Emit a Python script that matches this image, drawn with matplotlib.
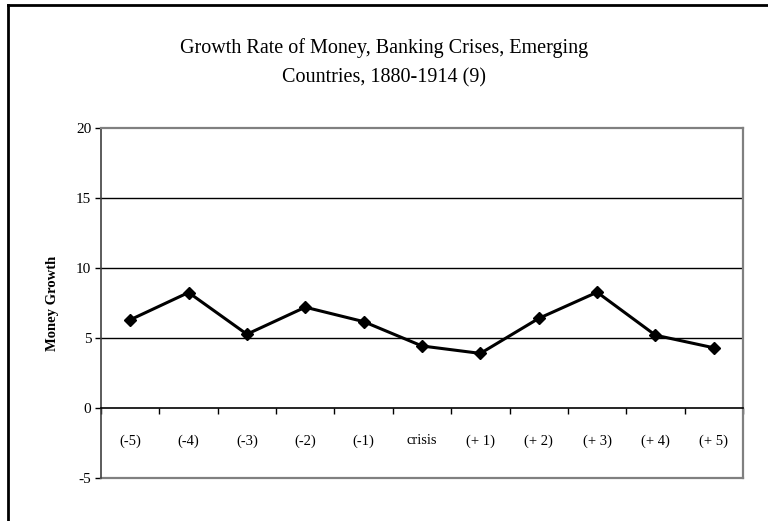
import matplotlib
matplotlib.use("Agg")
import matplotlib.pyplot as plt
from matplotlib.lines import Line2D
import numpy as np

# Data
periods = ["(-5)", "(-4)", "(-3)", "(-2)", "(-1)", "crisis",
           "(+ 1)", "(+ 2)", "(+ 3)", "(+ 4)", "(+ 5)"]
money_growth = [6.3, 8.25, 5.27, 7.2, 6.17, 4.43, 3.9, 6.4, 8.27, 5.2, 4.3]
y_ticks = [-5, 0, 5, 10, 15, 20]

plt.rcParams['font.family'] = ['Liberation Serif', 'DejaVu Serif']

fig = plt.figure(figsize=(7.68, 5.21), dpi=100)
ax = fig.add_axes([101 / 768, 1 - 478 / 521, (743 - 101) / 768, (478 - 128) / 521])

x = np.arange(len(periods))
ax.plot(x, money_growth, color='black', lw=2.2, marker='D', ms=6.5,
        markerfacecolor='black', markeredgecolor='black', zorder=3)

ax.set_xlim(-0.5, len(periods) - 0.5)
ax.set_ylim(-5, 20)

# gridlines
for v in [5, 10, 15]:
    ax.axhline(v, color='black', lw=1, zorder=1)

# frame
for side in ['top', 'right']:
    ax.spines[side].set_color('#808080')
    ax.spines[side].set_linewidth(1.6)
ax.spines['left'].set_color('#404040')
ax.spines['left'].set_linewidth(1.2)
ax.spines['bottom'].set_position(('data', 0))
ax.spines['bottom'].set_color('black')
ax.spines['bottom'].set_linewidth(1.2)
ax.axhline(-5, color='#808080', lw=1.6, zorder=2, clip_on=False)

ax.set_yticks(y_ticks)
ax.set_yticklabels([str(v) for v in y_ticks])
ax.tick_params(axis='y', length=4, width=1, direction='out', pad=3, labelsize=11)

ax.set_xticks(x)
ax.set_xticklabels(periods)
ax.set_xticks(np.arange(len(periods) + 1) - 0.5, minor=True)
ax.tick_params(axis='x', which='major', length=0, pad=19, labelsize=10.5)
ax.tick_params(axis='x', which='minor', length=4, width=1, direction='out')

ax.set_ylabel('Money Growth', fontsize=10.5, fontweight='bold', labelpad=12)

fig.text(384 / 768, 1 - 48 / 521, 'Growth Rate of Money, Banking Crises, Emerging',
         ha='center', va='center', fontsize=14.5)
fig.text(384 / 768, 1 - 78 / 521, 'Countries, 1880-1914 (9)',
         ha='center', va='center', fontsize=14.5)

# outer chart border (cut off on the right and bottom)
fig.add_artist(Line2D([8 / 768, 1], [1 - 5 / 521, 1 - 5 / 521], color='black', lw=2,
                      transform=fig.transFigure))
fig.add_artist(Line2D([8 / 768, 8 / 768], [0, 1 - 5 / 521], color='black', lw=2,
                      transform=fig.transFigure))

fig.savefig("out.png", dpi=100)
